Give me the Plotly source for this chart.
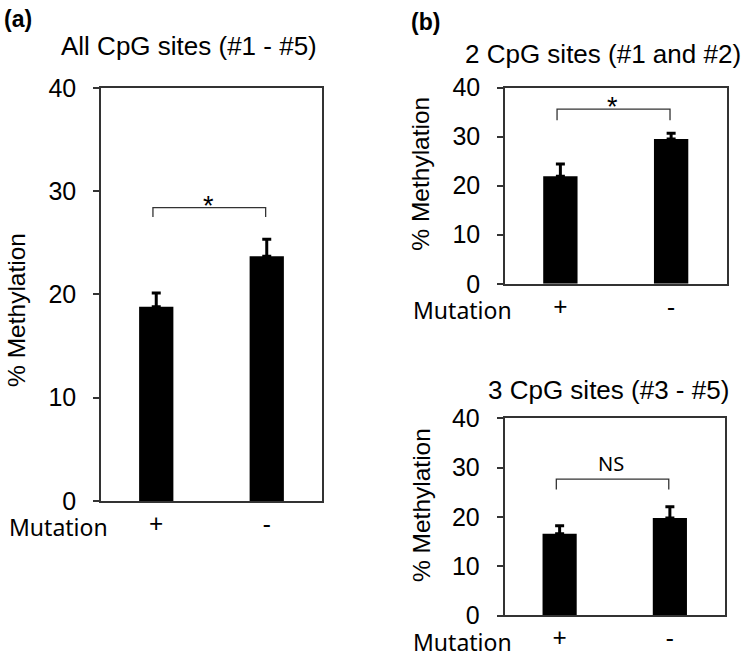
import plotly.graph_objects as go

W, H = 750, 668   # figure size in page pixels

# ---------------- data ----------------
categories = ["+", "-"]
panel_titles = ["All CpG sites (#1 - #5)", "2 CpG sites (#1 and #2)", "3 CpG sites (#3 - #5)"]
vals_all = [18.8, 23.7]
err_all = [1.35, 1.65]
vals_12 = [21.9, 29.5]
err_12 = [2.5, 1.2]
vals_345 = [16.6, 19.8]
err_345 = [1.6, 2.3]
sig_labels = ["*", "*", "NS"]
bracket_top = [28.4, 35.6, 27.7]
bracket_leg = [27.5, 33.35, 25.6]
y_ticks = [0, 10, 20, 30, 40]

series = [(vals_all, err_all), (vals_12, err_12), (vals_345, err_345)]

# ---------------- layout geometry ----------------
# target positions are given in picture pixels; convert to paper fractions
Y_OFF, Y_SCALE = 13.0, 0.96

def px(x):
    return x / W

def py(y):
    return 1 - ((y - Y_OFF) / Y_SCALE) / H

boxes = [  # left, right, top, bottom in picture pixels
    (101, 322, 87, 501),
    (505, 726.5, 86.7, 283.3),
    (504.5, 725, 418.3, 615.7),
]

fig = go.Figure()
axis_line = "#333333"
tick_font = dict(family="Liberation Sans, Arial, sans-serif", size=25, color="black")
cat_font = dict(family="Noto Sans, sans-serif", size=23, color="black")
pm_font = dict(family="Noto Sans, sans-serif", size=25, color="black")

for i, ((vals, errs), (l, r, t, b)) in enumerate(zip(series, boxes)):
    n = "" if i == 0 else str(i + 1)
    fig.add_trace(go.Bar(
        x=[0, 1], y=vals, width=0.31,
        marker=dict(color="black", line=dict(width=0)),
        error_y=dict(type="data", array=errs, arrayminus=[0, 0], symmetric=False,
                     color="black", thickness=3, width=4.5),
        xaxis="x" + n, yaxis="y" + n, showlegend=False,
    ))
    fig.layout["xaxis" + n] = dict(
        domain=[px(l), px(r)], anchor="y" + n, range=[-0.5, 1.5],
        tickmode="array", tickvals=[0, 1], ticktext=categories,
        showline=True, mirror=True, linecolor=axis_line, linewidth=1.5,
        ticks="", showgrid=False, zeroline=False, tickfont=pm_font,
        fixedrange=True,
    )
    fig.layout["yaxis" + n] = dict(
        domain=[py(b), py(t)], anchor="x" + n, range=[0, 40],
        tickmode="array", tickvals=y_ticks,
        showline=True, mirror=True, linecolor=axis_line, linewidth=1.5,
        ticks="outside", ticklen=6, tickwidth=1.5, tickcolor=axis_line,
        showgrid=False, zeroline=False, tickfont=tick_font,
        ticklabelstandoff=12, fixedrange=True,
    )
    x0, x1 = -0.03, 0.99
    fig.add_shape(
        type="path",
        path=f"M {x0},{bracket_leg[i]} L {x0},{bracket_top[i]} L {x1},{bracket_top[i]} L {x1},{bracket_leg[i]}",
        xref="x" + n, yref="y" + n, line=dict(color=axis_line, width=1.3),
    )
    if sig_labels[i] == "*":
        fig.add_annotation(x=0.47, y=bracket_top[i], xref="x" + n, yref="y" + n,
                           text="*", showarrow=False, yanchor="middle", yshift=2,
                           font=dict(family="Liberation Sans, Arial, sans-serif", size=27, color="black"))
    else:
        fig.add_annotation(x=0.47, y=bracket_top[i], xref="x" + n, yref="y" + n,
                           text=sig_labels[i], showarrow=False, yanchor="middle", yshift=16,
                           font=dict(family="Noto Sans, sans-serif", size=20, color="black"))

title_pos = [(189, 45), (603, 53), (608, 390)]
for txt, (x, y) in zip(panel_titles, title_pos):
    fig.add_annotation(x=px(x), y=py(y), xref="paper", yref="paper", text=txt,
                       showarrow=False, xanchor="center", yanchor="middle",
                       font=dict(family="Liberation Sans, Arial, sans-serif", size=26, color="black"))

ytitle_pos = [(16.5, 310), (421, 173), (421, 505)]
for x, y in ytitle_pos:
    fig.add_annotation(x=px(x), y=py(y), xref="paper", yref="paper", text="% Methylation",
                       showarrow=False, textangle=-90, xanchor="center", yanchor="middle",
                       font=dict(family="Liberation Sans, Arial, sans-serif", size=24.5, color="black"))

mut_pos = [(58.5, 527), (462.5, 310), (462.5, 642)]
for x, y in mut_pos:
    fig.add_annotation(x=px(x), y=py(y), xref="paper", yref="paper", text="Mutation",
                       showarrow=False, xanchor="center", yanchor="middle", font=cat_font)

for txt, (x, y) in zip(["(a)", "(b)"], [(17.5, 18), (425, 21)]):
    fig.add_annotation(x=px(x), y=py(y), xref="paper", yref="paper", text=f"<b>{txt}</b>",
                       showarrow=False, xanchor="center", yanchor="middle",
                       font=dict(family="Liberation Sans, Arial, sans-serif", size=23, color="black"))

fig.update_layout(
    width=W, height=H, autosize=False,
    margin=dict(l=0, r=0, t=0, b=0),
    paper_bgcolor="white", plot_bgcolor="white",
    showlegend=False,
)

fig.write_html("out.html", config={"displayModeBar": False},
               post_script="document.body.style.margin='0px';document.body.style.overflow='hidden';")
